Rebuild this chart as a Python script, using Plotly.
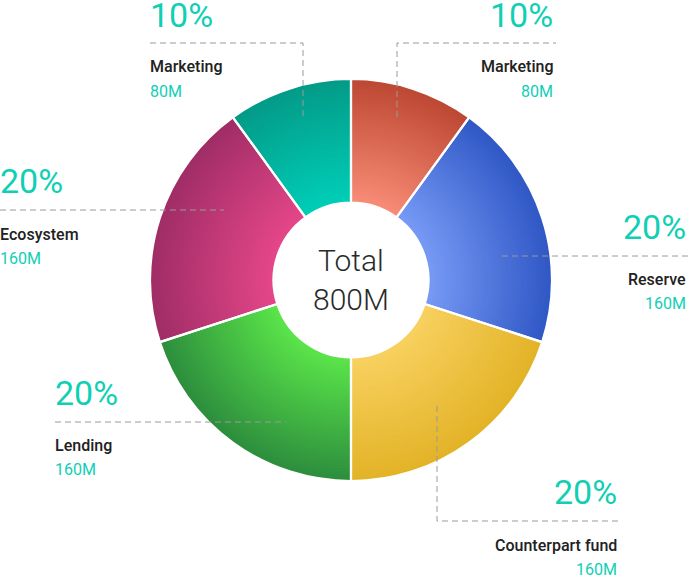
import plotly.graph_objects as go

# ---- data ----
slice_keys = ["marketing_r", "reserve", "counterpart", "lending", "ecosystem", "marketing_l"]
slice_names = ["Marketing", "Reserve", "Counterpart fund", "Lending", "Ecosystem", "Marketing"]
values_m = [80, 160, 160, 160, 160, 80]
percent_labels = ["10%", "20%", "20%", "20%", "20%", "10%"]
amount_labels = ["80M", "160M", "160M", "160M", "160M", "80M"]
# colour of each slice near the hole and near the outer rim (gradient ends)
inner_colors = ["#f98d77", "#789bf6", "#f8d160", "#5be64a", "#e6478a", "#00cfb8"]
outer_colors = ["#bd4833", "#3058c6", "#e3b327", "#2d8e3d", "#a02d66", "#039b88"]
total_label = "Total<br>800M"

W, H = 688, 576
TEAL = "#10cfb5"
DARK = "#222222"
GRAY = "#9a9a9a"


def hex2rgb(h):
    h = h.lstrip("#")
    return tuple(int(h[i:i + 2], 16) for i in (0, 2, 4))


def mix(c1, c2, t):
    a, b = hex2rgb(c1), hex2rgb(c2)
    return "rgb(%d,%d,%d)" % tuple(round(a[i] + (b[i] - a[i]) * t) for i in range(3))


fig = go.Figure()

cx, cy, R = 351, 280, 201
R_IN = 77.5
N_RINGS = 40


def domain_for(r):
    return dict(x=[(cx - r) / W, (cx + r) / W], y=[1 - (cy + r) / H, 1 - (cy - r) / H])


# radial gradient: draw pies from the outermost to the innermost, each on top of the last
for k in range(N_RINGS):
    r = R - (R - R_IN) * k / N_RINGS
    t = 1 - (r - R_IN) / (R - R_IN)  # 0 at rim, ~1 near hole
    cols = [mix(outer_colors[i], inner_colors[i], t) for i in range(len(values_m))]
    fig.add_trace(go.Pie(
        labels=slice_keys,
        values=values_m,
        sort=False,
        direction="clockwise",
        rotation=0,
        hole=R_IN / r,
        marker=dict(colors=cols, line=dict(width=0)),
        textinfo="none",
        hoverinfo="skip",
        showlegend=False,
        domain=domain_for(r),
    ))

# white separators between slices
fig.add_trace(go.Pie(
    labels=slice_keys,
    values=values_m,
    sort=False,
    direction="clockwise",
    rotation=0,
    hole=R_IN / R,
    marker=dict(colors=["rgba(0,0,0,0)"] * len(values_m), line=dict(color="white", width=2.2)),
    textinfo="none",
    hovertext=slice_names,
    hoverinfo="text+value",
    showlegend=False,
    domain=domain_for(R),
))


def px(x):
    return x / W


def py(y):
    return 1 - y / H


# label layout: (index, anchor, x, y of percent, y of name, y of amount)
label_pos = [
    (0, "right", 554, 15, 67, 91),
    (1, "right", 687, 227, 279, 303),
    (2, "right", 618, 492, 545, 569),
    (3, "left", 54, 393, 445, 469),
    (4, "left", -1, 181, 234, 258),
    (5, "left", 149, 15, 67, 91),
]

annotations = []
for idx, anchor, x, yp, yn, ya in label_pos:
    annotations.append(dict(x=px(x), y=py(yp), xref="paper", yref="paper", xanchor=anchor, yanchor="middle",
                            text=percent_labels[idx], showarrow=False,
                            font=dict(family="Roboto", size=34, color=TEAL, weight=400), borderpad=0))
    annotations.append(dict(x=px(x), y=py(yn), xref="paper", yref="paper", xanchor=anchor, yanchor="middle",
                            text=slice_names[idx], showarrow=False,
                            font=dict(family="Roboto Medium, Roboto", size=16, color=DARK, weight=500), borderpad=0))
    annotations.append(dict(x=px(x), y=py(ya), xref="paper", yref="paper", xanchor=anchor, yanchor="middle",
                            text=amount_labels[idx], showarrow=False,
                            font=dict(family="Roboto", size=16, color=TEAL, weight=400), borderpad=0))

annotations.append(dict(x=px(cx), y=py(cy), xref="paper", yref="paper", xanchor="center", yanchor="middle",
                        text=total_label, showarrow=False,
                        font=dict(family="Roboto", size=30, color="#2a2a2a", weight=300)))

# dashed leader lines
leaders = [
    [(150, 43), (303, 43), (303, 117)],
    [(397, 117), (397, 43), (556, 43)],
    [(0, 210), (224, 210)],
    [(502, 256), (688, 256)],
    [(55, 422), (286, 422)],
    [(437, 406), (437, 521), (618, 521)],
]
shapes = []
for pts in leaders:
    path = "M " + " L ".join(f"{px(x)},{py(y)}" for x, y in pts)
    shapes.append(dict(type="path", path=path, xref="paper", yref="paper", layer="above",
                       line=dict(color=GRAY, width=1, dash="6px,4px")))

fig.update_layout(
    width=W, height=H,
    margin=dict(l=0, r=0, t=0, b=0),
    paper_bgcolor="white",
    plot_bgcolor="white",
    annotations=annotations,
    shapes=shapes,
    font=dict(family="Roboto"),
)

fig.write_html("out.html", config=dict(displayModeBar=False),
               post_script="document.body.style.margin='0';document.body.style.overflow='hidden';")
